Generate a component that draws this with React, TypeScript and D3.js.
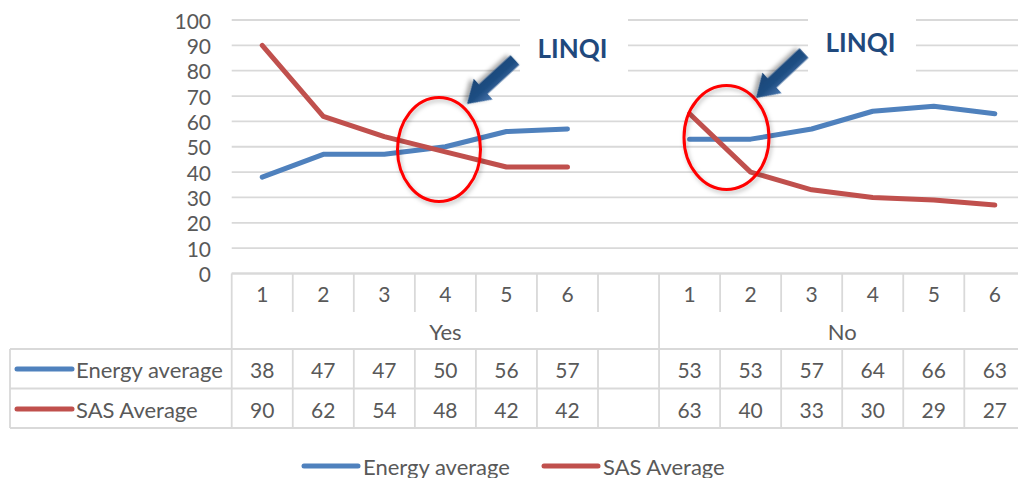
import React from "react";
import * as d3 from "d3";

// Category structure: two groups of six periods, with an empty spacer slot after "Yes"
const groups = ["Yes", "No"];
const periods = ["1", "2", "3", "4", "5", "6"];

// Series values per group
const energyYes = [38, 47, 47, 50, 56, 57];
const energyNo = [53, 53, 57, 64, 66, 63];
const sasYes = [90, 62, 54, 48, 42, 42];
const sasNo = [63, 40, 33, 30, 29, 27];

const seriesNames = ["Energy average", "SAS Average"];
const seriesColors = ["#4F81BD", "#C0504D"];

const yTickValues = [0, 10, 20, 30, 40, 50, 60, 70, 80, 90, 100];

const W = 1018;
const H = 478;
const FONT = "Lato, 'Noto Sans', sans-serif";
const TEXT = "#595959";
const GRID = "#d9d9d9";
const NUM_SIZE = 21;
const LABEL_SIZE = 22;

const slotKeys = [
  ...periods.map((p) => `Yes-${p}`),
  "Yes-gap",
  ...periods.map((p) => `No-${p}`),
];

const x = d3.scaleBand<string>().domain(slotKeys).range([231.7, 231.7 + 13 * 61.05]);
const y = d3.scaleLinear().domain([0, 100]).range([273.5, 20]);

type Pt = { key: string; v: number };
const toPts = (group: string, vals: number[]): Pt[] =>
  vals.map((v, i) => ({ key: `${group}-${periods[i]}`, v }));

const energySegments = [toPts("Yes", energyYes), toPts("No", energyNo)];
const sasSegments = [toPts("Yes", sasYes), toPts("No", sasNo)];

const line = d3
  .line<Pt>()
  .x((d) => (x(d.key) as number) + x.bandwidth() / 2)
  .y((d) => y(d.v));

// Table rows
const tTop = y(0);
const rowCatText = 293;
const rowCatTick = 312;
const rowGroupText = 331;
const rowLine1 = 349;
const rowEnergy = 369;
const rowLine2 = 388.5;
const rowSas = 409;
const rowLine3 = 428;
const tableLeft = 10;

function Arrow({ tail, tip, id }: { tail: [number, number]; tip: [number, number]; id: string }) {
  const dx = tip[0] - tail[0];
  const dy = tip[1] - tail[1];
  const L = Math.hypot(dx, dy);
  const ang = (Math.atan2(dy, dx) * 180) / Math.PI;
  const hl = 22;
  const hw = 14;
  const sw = 6.5;
  const pts = [
    [0, 0],
    [-hl, -hw],
    [-hl, -sw],
    [-L, -sw],
    [-L, sw],
    [-hl, sw],
    [-hl, hw],
  ]
    .map((p) => p.join(","))
    .join(" ");
  return (
    <g transform={`translate(${tip[0]},${tip[1]}) rotate(${ang})`} filter="url(#shadow)">
      <polygon points={pts} fill={`url(#${id})`} />
    </g>
  );
}

export default function App() {
  const bw = x.bandwidth();
  const slotLeft = (k: string) => x(k) as number;
  const boundaries = [...slotKeys.map(slotLeft), slotLeft(slotKeys[12]) + bw];
  const noStart = slotLeft("No-1");
  const rightEdge = boundaries[boundaries.length - 1];
  const groupCenters = [(slotLeft("Yes-1") + noStart) / 2, (noStart + rightEdge) / 2];
  const seriesRows = [
    { name: seriesNames[0], color: seriesColors[0], cy: rowEnergy, yes: energyYes, no: energyNo },
    { name: seriesNames[1], color: seriesColors[1], cy: rowSas, yes: sasYes, no: sasNo },
  ];

  return (
    <svg
      width={W}
      height={H}
      style={{ position: "absolute", left: 0, top: 0, background: "#fff" }}
      fontFamily={FONT}
    >
      <defs>
        <filter id="shadow" x="-30%" y="-30%" width="160%" height="160%">
          <feDropShadow dx="2.5" dy="3" stdDeviation="2" floodColor="#000" floodOpacity="0.35" />
        </filter>
        <filter id="softShadow" x="-20%" y="-20%" width="140%" height="140%">
          <feDropShadow dx="1.5" dy="2.5" stdDeviation="2" floodColor="#000" floodOpacity="0.25" />
        </filter>
        {["arrowGrad1", "arrowGrad2"].map((id) => (
          <linearGradient key={id} id={id} x1="0" y1="0" x2="0" y2="1">
            <stop offset="0%" stopColor="#4a78b0" />
            <stop offset="45%" stopColor="#1f4e83" />
            <stop offset="100%" stopColor="#1c4677" />
          </linearGradient>
        ))}
      </defs>

      {/* horizontal gridlines */}
      {yTickValues.map((t) => (
        <line
          key={`g${t}`}
          x1={231.7}
          x2={W + 10}
          y1={y(t)}
          y2={y(t)}
          stroke={GRID}
          strokeWidth={1.8}
        />
      ))}

      {/* y axis labels */}
      {yTickValues.map((t) => (
        <text
          key={`yl${t}`}
          x={211}
          y={y(t)}
          textAnchor="end"
          dominantBaseline="central"
          fontSize={NUM_SIZE}
          fill={TEXT}
        >
          {t}
        </text>
      ))}

      {/* white callout boxes behind the labels */}
      <rect x={520} y={0} width={108} height={84} fill="#fff" />
      <rect x={808} y={0} width={108} height={84} fill="#fff" />

      {/* data table */}
      <g stroke={GRID} strokeWidth={1.8}>
        <line x1={231.7} x2={W + 10} y1={tTop} y2={tTop} />
        <line x1={tableLeft} x2={W + 10} y1={rowLine1} y2={rowLine1} />
        <line x1={tableLeft} x2={W + 10} y1={rowLine2} y2={rowLine2} />
        <line x1={tableLeft} x2={W + 10} y1={rowLine3} y2={rowLine3} />
        <line x1={tableLeft} x2={tableLeft} y1={rowLine1} y2={rowLine3} />
        {/* category separators: short in header, full in data rows */}
        {boundaries.map((bx, i) => {
          const full = i === 0 || bx === noStart || i === boundaries.length - 1;
          return (
            <g key={`vb${i}`}>
              <line x1={bx} x2={bx} y1={tTop} y2={full ? rowLine1 : rowCatTick} />
              <line x1={bx} x2={bx} y1={rowLine1} y2={rowLine3} />
            </g>
          );
        })}
      </g>

      {/* period labels */}
      {slotKeys
        .filter((k) => !k.endsWith("gap"))
        .map((k) => (
          <text
            key={`c${k}`}
            x={slotLeft(k) + bw / 2}
            y={rowCatText}
            textAnchor="middle"
            dominantBaseline="central"
            fontSize={NUM_SIZE}
            fill={TEXT}
          >
            {k.split("-")[1]}
          </text>
        ))}

      {/* group labels */}
      {groups.map((g, i) => (
        <text
          key={`gl${g}`}
          x={groupCenters[i]}
          y={rowGroupText}
          textAnchor="middle"
          dominantBaseline="central"
          fontSize={LABEL_SIZE}
          fill={TEXT}
        >
          {g}
        </text>
      ))}

      {/* series rows */}
      {seriesRows.map((r) => (
        <g key={r.name}>
          <line x1={17} x2={72} y1={r.cy} y2={r.cy} stroke={r.color} strokeWidth={5} strokeLinecap="round" />
          <text x={76} y={r.cy} dominantBaseline="central" fontSize={LABEL_SIZE} fill={TEXT}>
            {r.name}
          </text>
          {r.yes.map((v, i) => (
            <text
              key={`y${i}`}
              x={slotLeft(`Yes-${periods[i]}`) + bw / 2}
              y={r.cy}
              textAnchor="middle"
              dominantBaseline="central"
              fontSize={NUM_SIZE}
              fill={TEXT}
            >
              {v}
            </text>
          ))}
          {r.no.map((v, i) => (
            <text
              key={`n${i}`}
              x={slotLeft(`No-${periods[i]}`) + bw / 2}
              y={r.cy}
              textAnchor="middle"
              dominantBaseline="central"
              fontSize={NUM_SIZE}
              fill={TEXT}
            >
              {v}
            </text>
          ))}
        </g>
      ))}

      {/* series lines */}
      {energySegments.map((seg, i) => (
        <path
          key={`e${i}`}
          d={line(seg) ?? ""}
          fill="none"
          stroke={seriesColors[0]}
          strokeWidth={5}
          strokeLinecap="round"
          strokeLinejoin="round"
        />
      ))}
      {sasSegments.map((seg, i) => (
        <path
          key={`s${i}`}
          d={line(seg) ?? ""}
          fill="none"
          stroke={seriesColors[1]}
          strokeWidth={5}
          strokeLinecap="round"
          strokeLinejoin="round"
        />
      ))}

      {/* highlight ellipses */}
      <g filter="url(#softShadow)">
        <ellipse cx={439} cy={149.5} rx={41.5} ry={52} fill="none" stroke="#FF0000" strokeWidth={3} />
        <ellipse cx={726.5} cy={137.5} rx={42.5} ry={52} fill="none" stroke="#FF0000" strokeWidth={3} />
      </g>

      {/* callout arrows */}
      <Arrow id="arrowGrad1" tail={[515, 60]} tip={[467, 104]} />
      <Arrow id="arrowGrad2" tail={[804, 53]} tip={[756, 98]} />

      {/* callout labels */}
      <text x={572.5} y={58} textAnchor="middle" fontSize={26} fontWeight={700} fill="#1F497D">
        LINQI
      </text>
      <text x={860.5} y={52} textAnchor="middle" fontSize={26} fontWeight={700} fill="#1F497D">
        LINQI
      </text>

      {/* legend */}
      {seriesNames.map((n, i) => {
        const lx = i === 0 ? 304 : 544;
        return (
          <g key={`lg${n}`}>
            <line x1={lx} x2={lx + 54} y1={466} y2={466} stroke={seriesColors[i]} strokeWidth={5} strokeLinecap="round" />
            <text x={lx + 59} y={466} dominantBaseline="central" fontSize={LABEL_SIZE} fill={TEXT}>
              {n}
            </text>
          </g>
        );
      })}
    </svg>
  );
}
